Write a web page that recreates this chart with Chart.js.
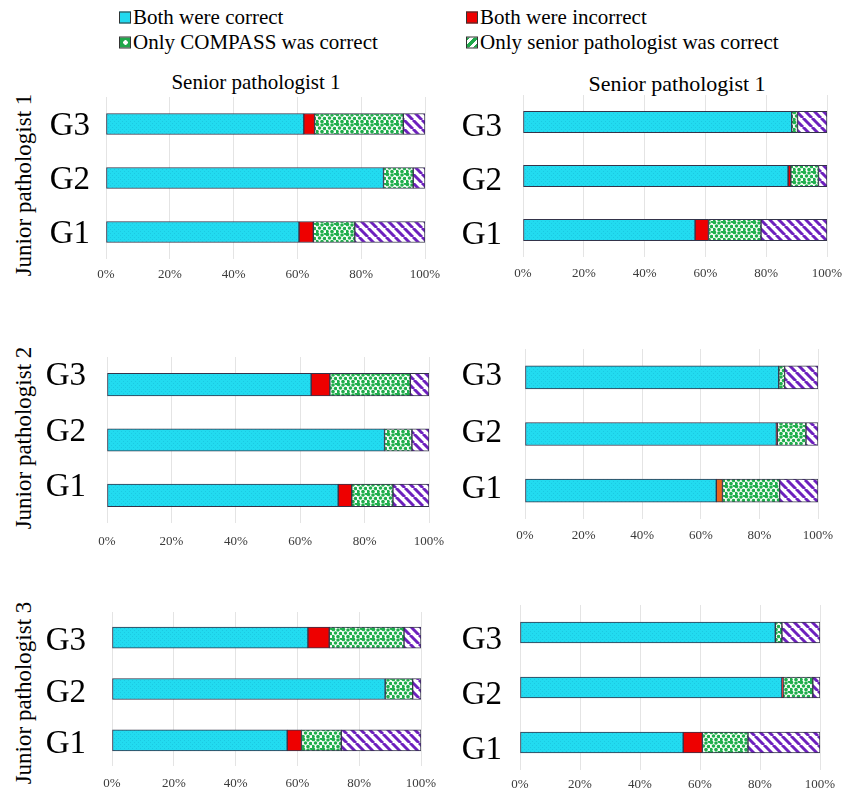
<!DOCTYPE html>
<html>
<head>
<meta charset="utf-8">
<script src="https://cdn.jsdelivr.net/npm/chart.js@4/dist/chart.umd.min.js"></script>
<style>
  html, body { margin: 0; padding: 0; background: #fff; }
  #stage { position: relative; width: 854px; height: 792px; overflow: hidden; font-family: "Liberation Serif", "Times New Roman", serif; color: #000; }
  .panel { position: absolute; }
  .panel canvas { display: block; }
  .txt { position: absolute; white-space: nowrap; line-height: 1; }
  .legend-item { position: absolute; display: flex; align-items: center; font-size: 21px; line-height: 1; white-space: nowrap; transform: translateY(-50%); }
  .swatch { width: 10px; height: 10px; border: 1px solid #333; margin-right: 2px; flex: none; }
  .sw-both { background: #22d9ef; }
  .sw-none { background: #ee0000; }
  .sw-compass { background: radial-gradient(circle at 55% 50%, #fff 0 2px, #1fa84a 2.5px); }
  .sw-senior { background: repeating-linear-gradient(-45deg, #1fa84a 0 3px, #fff 3px 6px); }
  .row-title { transform: translate(-50%, -50%) rotate(-90deg); font-size: 23px; }
  .col-title { transform: translate(-50%, -50%); }
</style>
</head>
<body>
<div id="stage">
  <div class="legend-item" style="left:119px; top:17px;"><span class="swatch sw-both"></span>Both were correct</div>
  <div class="legend-item" style="left:466px; top:17px;"><span class="swatch sw-none"></span>Both were incorrect</div>
  <div class="legend-item" style="left:119px; top:42px;"><span class="swatch sw-compass"></span>Only COMPASS was correct</div>
  <div class="legend-item" style="left:466px; top:42px;"><span class="swatch sw-senior"></span>Only senior pathologist was correct</div>

  <div class="txt col-title" style="left:256px; top:82px; font-size:21px;">Senior pathologist 1</div>
  <div class="txt col-title" style="left:677px; top:84px; font-size:22px;">Senior pathologist 1</div>

  <div class="txt row-title" style="left:23px; top:185px;">Junior pathologist 1</div>
  <div class="txt row-title" style="left:23px; top:438px;">Junior pathologist 2</div>
  <div class="txt row-title" style="left:23px; top:693px;">Junior pathologist 3</div>
</div>
<script>
// Groups on the category axis (drawn bottom-to-top: G1, G2, G3)
const groups = ['G1', 'G2', 'G3'];

// Percentages per panel, each triple is [G1, G2, G3].
// Panel order: J1 left, J1 right, J2 left, J2 right, J3 left, J3 right.
const bothCorrect = [
  [60.5, 87.0, 62.0],
  [56.6, 87.2, 88.4],
  [71.8, 86.2, 63.4],
  [65.3, 85.8, 86.6],
  [56.7, 88.4, 63.4],
  [54.4, 87.3, 85.1]
];
const bothIncorrect = [
  [4.5, 0.0, 3.4],
  [4.4, 0.9, 0.0],
  [4.2, 0.0, 5.8],
  [2.1, 0.3, 0.0],
  [4.6, 0.0, 6.9],
  [6.4, 0.4, 0.0]
];
const onlyCompass = [
  [13.0, 9.3, 27.8],
  [17.3, 9.1, 1.9],
  [12.8, 8.5, 25.0],
  [19.5, 9.8, 2.0],
  [12.9, 8.9, 24.2],
  [15.2, 9.9, 2.2]
];
const onlySenior = [
  [22.0, 3.7, 6.8],
  [21.7, 2.8, 9.7],
  [11.2, 5.3, 5.8],
  [13.1, 4.1, 11.4],
  [25.8, 2.7, 5.5],
  [24.0, 2.4, 12.7]
];
const xTicks = [0, 20, 40, 60, 80, 100];

// Plot-area placement of each panel on the page
const panelLayout = [
  { left: 106, right: 425, top: 97,  bottom: 259, bar: 21,   yPad: 16, xPad: 8,  labelShift: 2 },
  { left: 523, right: 827, top: 95,  bottom: 257, bar: 21.5, yPad: 21, xPad: 9,  labelShift: 5 },
  { left: 107, right: 429, top: 357, bottom: 523, bar: 22.5, yPad: 21, xPad: 11, labelShift: -8 },
  { left: 525, right: 818, top: 349, bottom: 519, bar: 23,   yPad: 23, xPad: 9,  labelShift: -1 },
  { left: 112, right: 421, top: 612, bottom: 766, bar: 21,   yPad: 26, xPad: 10, labelShift: 4 },
  { left: 520, right: 820, top: 605, bottom: 770, bar: 21,   yPad: 18, xPad: 7,  labelShift: 8 }
];
// The "both incorrect" segment of J2-right G1 is printed in orange
const incorrectColorOverride = { 3: ['#e8641c', '#ee0000', '#ee0000'] };

Chart.defaults.font.family = '"Liberation Serif", "Times New Roman", serif';
Chart.defaults.animation = false;

function makeTile(size, draw) {
  const c = document.createElement('canvas');
  c.width = size; c.height = size;
  const g = c.getContext('2d');
  draw(g, size);
  return g.createPattern(c, 'repeat');
}

const cyanFill = makeTile(4, (g) => {
  g.fillStyle = '#22dbf0'; g.fillRect(0, 0, 4, 4);
  g.fillStyle = '#1cc9e2'; g.fillRect(0, 0, 1, 1); g.fillRect(2, 2, 1, 1);
});

const dotFill = makeTile(10, (g) => {
  g.fillStyle = '#ffffff'; g.fillRect(0, 0, 10, 10);
  g.fillStyle = '#1fae4c';
  const dots = [[1.5, 1.5], [6, 2], [3.5, 5], [8.5, 5.5], [1, 8.5], [6, 8.5], [9.5, 0.5]];
  dots.forEach(([x, y]) => { g.beginPath(); g.arc(x, y, 1.8, 0, Math.PI * 2); g.fill(); });
});

const stripeFill = makeTile(9, (g, s) => {
  g.fillStyle = '#ffffff'; g.fillRect(0, 0, s, s);
  g.strokeStyle = '#6d20bd'; g.lineWidth = 3;
  [-s, 0, s].forEach((o) => {
    g.beginPath(); g.moveTo(o, 0); g.lineTo(o + s, s); g.stroke();
  });
});

const stage = document.getElementById('stage');
const Y_AXIS_W = 80, X_AXIS_H = 30, PAD_TOP = 4, PAD_RIGHT = 26;

panelLayout.forEach((p, i) => {
  const w = Y_AXIS_W + (p.right - p.left) + PAD_RIGHT;
  const h = PAD_TOP + (p.bottom - p.top) + X_AXIS_H;
  const box = document.createElement('div');
  box.className = 'panel';
  box.style.left = (p.left - Y_AXIS_W) + 'px';
  box.style.top = (p.top - PAD_TOP) + 'px';
  box.style.width = w + 'px';
  box.style.height = h + 'px';
  const cv = document.createElement('canvas');
  box.appendChild(cv);
  stage.appendChild(box);

  const seg = (label, data, fill) => ({
    label, data, backgroundColor: fill,
    borderColor: '#34344a', borderWidth: 1, borderSkipped: false,
    barThickness: p.bar
  });

  new Chart(cv, {
    type: 'bar',
    data: {
      labels: groups,
      datasets: [
        seg('Both were correct', bothCorrect[i], cyanFill),
        seg('Both were incorrect', bothIncorrect[i], incorrectColorOverride[i] || '#ee0000'),
        seg('Only COMPASS was correct', onlyCompass[i], dotFill),
        seg('Only senior pathologist was correct', onlySenior[i], stripeFill)
      ]
    },
    options: {
      indexAxis: 'y',
      responsive: true,
      maintainAspectRatio: false,
      layout: { padding: { top: PAD_TOP, right: PAD_RIGHT, left: 0, bottom: 0 } },
      plugins: { legend: { display: false }, tooltip: { enabled: false } },
      scales: {
        x: {
          stacked: true, min: 0, max: 100,
          afterBuildTicks: (s) => { s.ticks = xTicks.map((v) => ({ value: v })); },
          afterFit: (s) => { s.height = X_AXIS_H; s.paddingLeft = 0; s.paddingRight = 0; },
          grid: { color: '#e4e4e4', lineWidth: 1, drawTicks: false },
          border: { display: false },
          ticks: { callback: (v) => v + '%', font: { size: 13 }, color: '#3a3a3a', padding: p.xPad, maxRotation: 0 }
        },
        y: {
          stacked: true, reverse: true,
          afterFit: (s) => { s.width = Y_AXIS_W; s.paddingTop = 0; s.paddingBottom = 0; },
          grid: { display: false, drawTicks: false },
          border: { display: false },
          ticks: { font: { size: 33 }, color: '#000', padding: p.yPad, autoSkip: false, labelOffset: p.labelShift }
        }
      }
    }
  });
});
</script>
</body>
</html>
